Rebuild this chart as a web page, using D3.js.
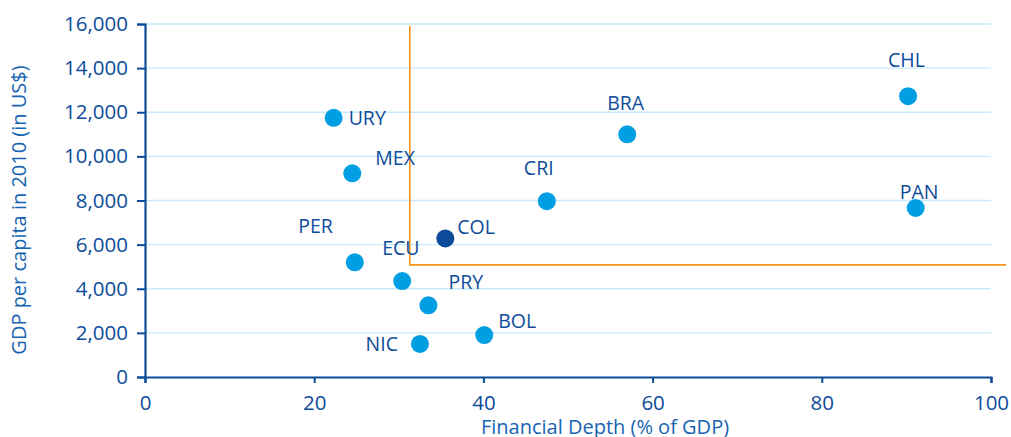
<!DOCTYPE html>
<html>
<head>
<meta charset="utf-8">
<script src="https://cdn.jsdelivr.net/npm/d3@7"></script>
<style>
  body { margin: 0; background: #fff; }
  text { font-family: "Open Sans", "Noto Sans", sans-serif; }
</style>
</head>
<body>
<svg width="1011" height="437"></svg>
<script>
const svg = d3.select("svg");

// DATA
const countries = ["URY", "MEX", "PER", "ECU", "PRY", "NIC", "BOL", "COL", "CRI", "BRA", "CHL", "PAN"];
const depth = [22.3, 24.5, 24.8, 30.4, 33.5, 32.5, 40.1, 35.5, 47.5, 57.0, 90.2, 91.1];
const gdp = [11750, 9230, 5200, 4350, 3250, 1500, 1900, 6280, 7970, 11000, 12730, 7660];
const highlight = "COL";
const xTicks = [0, 20, 40, 60, 80, 100];
const yTicks = [0, 2000, 4000, 6000, 8000, 10000, 12000, 14000, 16000];
// reference lines (x threshold, y threshold)
const refX = 31.3;
const refY = 5080;

// label offsets from point (styling)
const labelOffset = {
  URY: [15, 7, "start"], MEX: [23, -8, "start"], PER: [-22, -29, "end"],
  ECU: [-20, -26, "start"], PRY: [20, -16, "start"], NIC: [-22, 7, "end"],
  BOL: [14, -7, "start"], COL: [12, -4, "start"], CRI: [-23, -26, "start"],
  BRA: [-20, -24, "start"], CHL: [-20, -29, "start"], PAN: [-16, -9, "start"]
};

const data = countries.map((c, i) => ({ name: c, x: depth[i], y: gdp[i] }));

const x0 = 145, x1 = 991, yTop = 24, yBot = 377;
const axisColor = "#0d4c9b";
const titleColor = "#1764b2";

const xScale = d3.scaleLinear().domain([0, 100]).range([x0, x1]);
const yScale = d3.scaleLinear().domain([0, 16000]).range([yBot, yTop]);

// gridlines
svg.append("g")
  .selectAll("line")
  .data(yTicks.filter(d => d > 0))
  .join("line")
  .attr("x1", x0).attr("x2", x1)
  .attr("y1", d => yScale(d)).attr("y2", d => yScale(d))
  .attr("stroke", "#c5eaf9").attr("stroke-width", 1.3);

// reference lines
svg.append("path")
  .attr("d", `M${xScale(refX)},${yScale(15900)} V${yScale(refY)} H1006`)
  .attr("fill", "none")
  .attr("stroke", "#f7941d")
  .attr("stroke-width", 1.6);

// axes
const yAxis = svg.append("g")
  .attr("transform", `translate(${x0},0)`)
  .call(d3.axisLeft(yScale).tickValues(yTicks).tickFormat(d3.format(",")).tickSize(8).tickPadding(9));
const xAxis = svg.append("g")
  .attr("transform", `translate(0,${yBot})`)
  .call(d3.axisBottom(xScale).tickValues(xTicks).tickSize(6).tickPadding(12));

[xAxis, yAxis].forEach(g => {
  g.select(".domain").attr("stroke", axisColor).attr("stroke-width", 2.2);
  g.selectAll(".tick line").attr("stroke", axisColor).attr("stroke-width", 2);
  g.selectAll(".tick text")
    .attr("fill", axisColor)
    .style("font-size", "20.5px")
    .style("font-family", "'Open Sans', 'Noto Sans', sans-serif");
});

// axis titles
svg.append("text")
  .attr("x", 605)
  .attr("y", 434)
  .attr("text-anchor", "middle")
  .attr("fill", titleColor)
  .style("font-size", "20px")
  .text("Financial Depth (% of GDP)");

svg.append("text")
  .attr("transform", `translate(26, 210) rotate(-90)`)
  .attr("text-anchor", "middle")
  .attr("fill", titleColor)
  .style("font-size", "20px")
  .text("GDP per capita in 2010 (in US$)");

// points
svg.append("g")
  .selectAll("circle")
  .data(data)
  .join("circle")
  .attr("cx", d => xScale(d.x))
  .attr("cy", d => yScale(d.y))
  .attr("r", 9)
  .attr("fill", d => d.name === highlight ? "#0c4a9a" : "#009fe3");

// labels
svg.append("g")
  .selectAll("text")
  .data(data)
  .join("text")
  .attr("x", d => xScale(d.x) + labelOffset[d.name][0])
  .attr("y", d => yScale(d.y) + labelOffset[d.name][1])
  .attr("text-anchor", d => labelOffset[d.name][2])
  .attr("fill", axisColor)
  .style("font-size", "19.5px")
  .text(d => d.name);
</script>
</body>
</html>
